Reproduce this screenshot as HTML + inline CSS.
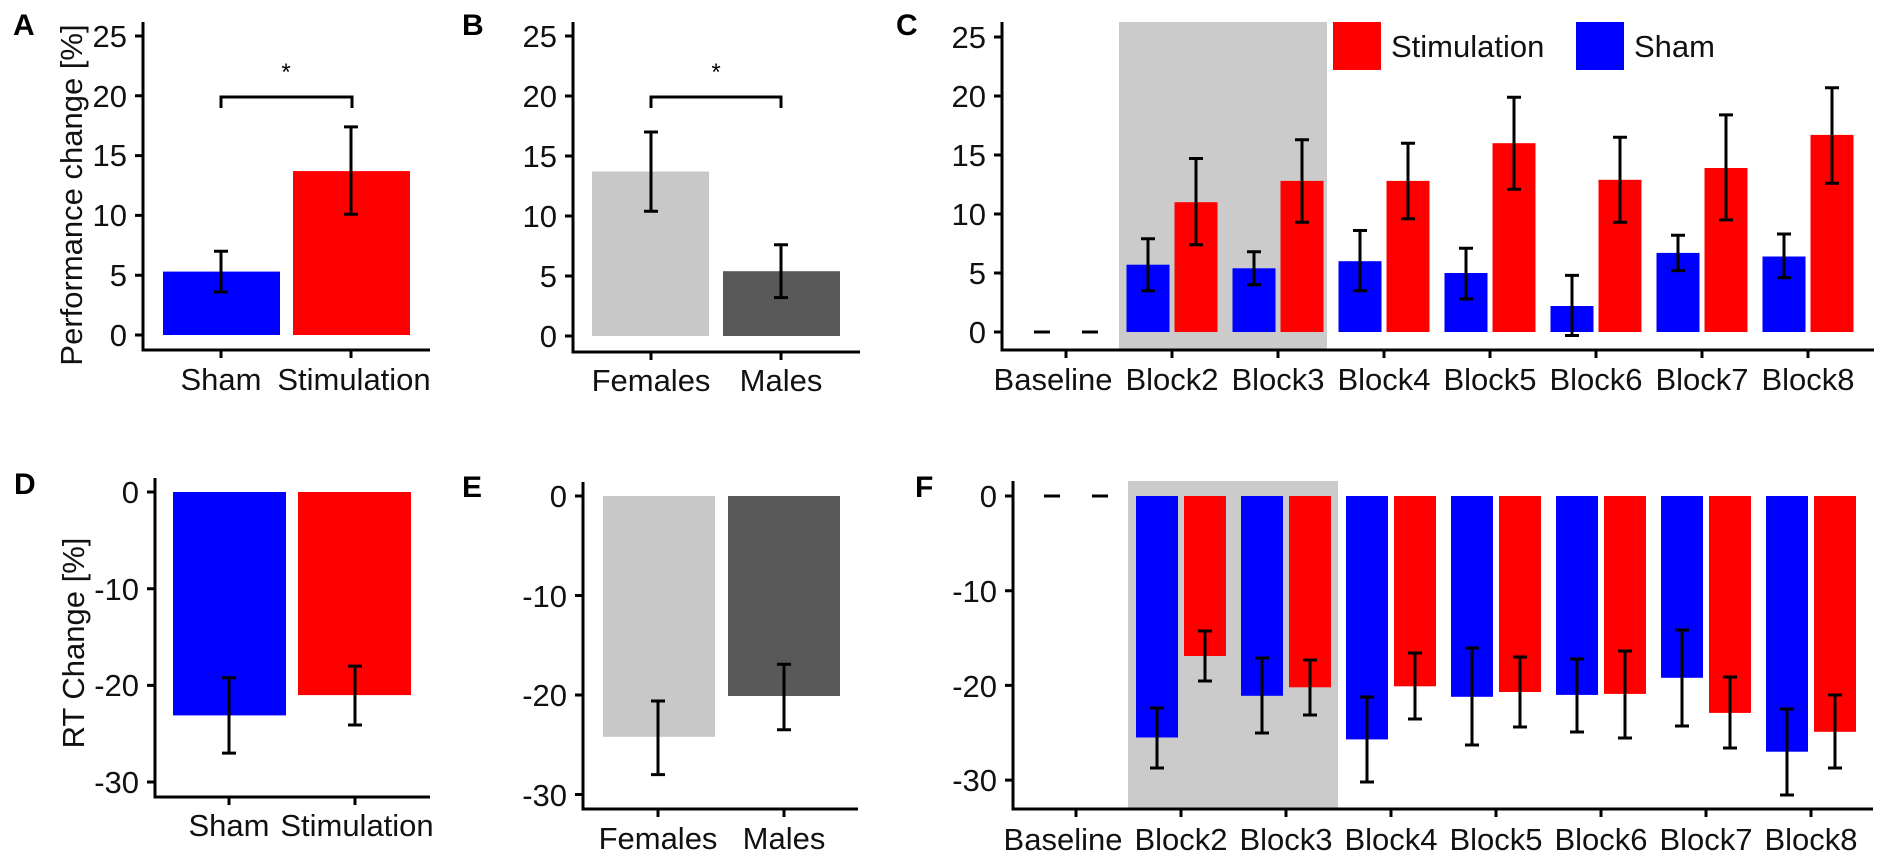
<!DOCTYPE html>
<html><head><meta charset="utf-8"><style>
html,body{margin:0;padding:0;background:#fff;}
svg{display:block;font-family:"Liberation Sans",Arial,sans-serif;}
.t{font-size:31px;fill:#111;}
.l{font-size:30px;font-weight:bold;fill:#000;}
.ax{stroke:#000;stroke-width:3;fill:none;}
.e{stroke:#000;stroke-width:3;fill:none;}
</style></head><body>
<svg width="1890" height="867" viewBox="0 0 1890 867" xmlns="http://www.w3.org/2000/svg">
<rect width="1890" height="867" fill="#fff"/>

<text class="l" x="13" y="35">A</text>
<text class="l" x="462" y="35">B</text>
<text class="l" x="896" y="35">C</text>
<text class="l" x="14" y="494">D</text>
<text class="l" x="462" y="497">E</text>
<text class="l" x="915" y="497">F</text>

<!-- ===== Panel A ===== -->
<text class="t" text-anchor="middle" transform="translate(82,195) rotate(-90)">Performance change [%]</text>
<rect x="163" y="271.6" width="117" height="63.4" fill="#0000ff"/>
<rect x="293" y="171.1" width="117" height="163.9" fill="#ff0000"/>
<path class="e" d="M221 291.9V251.3M214 291.9h14M214 251.3h14M351 214.2V126.9M344 214.2h14M344 126.9h14"/>
<path class="e" d="M221 108V97H352V108" stroke-width="2.5"/>
<text x="286" y="80" font-size="24" text-anchor="middle">*</text>
<path class="ax" d="M143 22V350H430M135 335h8M135 275.2h8M135 215.4h8M135 155.6h8M135 95.8h8M135 36h8M221 350v8M351 350v8"/>
<g class="t" text-anchor="end">
<text x="127" y="346">0</text><text x="127" y="286">5</text><text x="127" y="226">10</text><text x="127" y="166">15</text><text x="127" y="107">20</text><text x="127" y="47">25</text></g>
<g class="t" text-anchor="middle"><text x="221" y="390">Sham</text><text x="354" y="390">Stimulation</text></g>

<!-- ===== Panel B ===== -->
<rect x="592" y="171.6" width="117" height="164.4" fill="#c8c8c8"/>
<rect x="723" y="271.2" width="117" height="64.8" fill="#595959"/>
<path class="e" d="M651 211.2V132M644 211.2h14M644 132h14M781 297.6V244.8M774 297.6h14M774 244.8h14"/>
<path class="e" d="M651 108V97H781V108" stroke-width="2.5"/>
<text x="716" y="80" font-size="24" text-anchor="middle">*</text>
<path class="ax" d="M573 22V352H860M565 336h8M565 276h8M565 216h8M565 156h8M565 96h8M565 36h8M651 352v8M781 352v8"/>
<g class="t" text-anchor="end">
<text x="557" y="347">0</text><text x="557" y="287">5</text><text x="557" y="227">10</text><text x="557" y="167">15</text><text x="557" y="107">20</text><text x="557" y="47">25</text></g>
<g class="t" text-anchor="middle"><text x="651" y="391">Females</text><text x="781" y="391">Males</text></g>

<!-- ===== Panel C ===== -->
<rect x="1119" y="22" width="208" height="328" fill="#cbcbcb"/>
<g fill="#0000ff">
<rect x="1126.5" y="264.7" width="43" height="67.3"/>
<rect x="1232.5" y="268.3" width="43" height="63.7"/>
<rect x="1338.5" y="261.2" width="43" height="70.8"/>
<rect x="1444.5" y="273" width="43" height="59"/>
<rect x="1550.5" y="306" width="43" height="26"/>
<rect x="1656.5" y="252.9" width="43" height="79.1"/>
<rect x="1762.5" y="256.5" width="43" height="75.5"/>
</g>
<g fill="#ff0000">
<rect x="1174.5" y="202.2" width="43" height="129.8"/>
<rect x="1280.5" y="180.9" width="43" height="151.1"/>
<rect x="1386.5" y="180.9" width="43" height="151.1"/>
<rect x="1492.5" y="143.2" width="43" height="188.8"/>
<rect x="1598.5" y="179.8" width="43" height="152.2"/>
<rect x="1704.5" y="168" width="43" height="164"/>
<rect x="1810.5" y="134.9" width="43" height="197.1"/>
</g>
<path class="e" d="
M1148 290.7V238.8M1141 290.7h14M1141 238.8h14
M1196 244.7V158.5M1189 244.7h14M1189 158.5h14
M1254 284.8V251.8M1247 284.8h14M1247 251.8h14
M1302 222.3V139.7M1295 222.3h14M1295 139.7h14
M1360 290.7V230.5M1353 290.7h14M1353 230.5h14
M1408 218.7V143.2M1401 218.7h14M1401 143.2h14
M1466 299V248.2M1459 299h14M1459 248.2h14
M1514 189.2V97.2M1507 189.2h14M1507 97.2h14
M1572 335.5V275.4M1565 335.5h14M1565 275.4h14
M1620 222.3V137.3M1613 222.3h14M1613 137.3h14
M1678 270.6V235.2M1671 270.6h14M1671 235.2h14
M1726 219.9V114.9M1719 219.9h14M1719 114.9h14
M1784 277.7V234M1777 277.7h14M1777 234h14
M1832 183.3V87.7M1825 183.3h14M1825 87.7h14
M1034 332h16M1082 332h16"/>
<path class="ax" d="M1002 22V350H1874M994 332h8M994 273h8M994 214h8M994 155h8M994 96h8M994 37h8
M1066 350v8M1172 350v8M1278 350v8M1384 350v8M1490 350v8M1596 350v8M1702 350v8M1808 350v8"/>
<g class="t" text-anchor="end">
<text x="986" y="343">0</text><text x="986" y="284">5</text><text x="986" y="225">10</text><text x="986" y="166">15</text><text x="986" y="107">20</text><text x="986" y="48">25</text></g>
<g class="t" text-anchor="middle">
<text x="1053" y="390">Baseline</text><text x="1172" y="390">Block2</text><text x="1278" y="390">Block3</text><text x="1384" y="390">Block4</text><text x="1490" y="390">Block5</text><text x="1596" y="390">Block6</text><text x="1702" y="390">Block7</text><text x="1808" y="390">Block8</text></g>
<rect x="1333" y="22" width="48" height="48" fill="#ff0000"/>
<text class="t" x="1391" y="57">Stimulation</text>
<rect x="1576" y="22" width="48" height="48" fill="#0000ff"/>
<text class="t" x="1634" y="57">Sham</text>

<!-- ===== Panel D ===== -->
<text class="t" text-anchor="middle" transform="translate(84,643) rotate(-90)">RT Change [%]</text>
<rect x="173" y="492" width="113" height="223.4" fill="#0000ff"/>
<rect x="298" y="492" width="113" height="203.1" fill="#ff0000"/>
<path class="e" d="M229 677.7V753.1M222 677.7h14M222 753.1h14M355 666.1V725M348 666.1h14M348 725h14"/>
<path class="ax" d="M155 478V797H430M147 492h8M147 588.7h8M147 685.4h8M147 782h8M229 797v8M355 797v8"/>
<g class="t" text-anchor="end">
<text x="139" y="503">0</text><text x="139" y="600">-10</text><text x="139" y="696">-20</text><text x="139" y="793">-30</text></g>
<g class="t" text-anchor="middle"><text x="229" y="836">Sham</text><text x="357" y="836">Stimulation</text></g>

<!-- ===== Panel E ===== -->
<rect x="603" y="496" width="112" height="240.8" fill="#c8c8c8"/>
<rect x="728" y="496" width="112" height="200" fill="#595959"/>
<path class="e" d="M658 701V774.6M651 701h14M651 774.6h14M784 664.2V729.8M777 664.2h14M777 729.8h14"/>
<path class="ax" d="M583 482V809H858M575 496h8M575 595.5h8M575 695h8M575 794.5h8M658 809v8M784 809v8"/>
<g class="t" text-anchor="end">
<text x="567" y="507">0</text><text x="567" y="607">-10</text><text x="567" y="706">-20</text><text x="567" y="806">-30</text></g>
<g class="t" text-anchor="middle"><text x="658" y="849">Females</text><text x="784" y="849">Males</text></g>

<!-- ===== Panel F ===== -->
<rect x="1128" y="481" width="210" height="328" fill="#cbcbcb"/>
<g fill="#0000ff">
<rect x="1136" y="496" width="42" height="241.5"/>
<rect x="1241" y="496" width="42" height="199.8"/>
<rect x="1346" y="496" width="42" height="243.4"/>
<rect x="1451" y="496" width="42" height="200.8"/>
<rect x="1556" y="496" width="42" height="198.9"/>
<rect x="1661" y="496" width="42" height="181.8"/>
<rect x="1766" y="496" width="42" height="255.7"/>
</g>
<g fill="#ff0000">
<rect x="1184" y="496" width="42" height="160"/>
<rect x="1289" y="496" width="42" height="191.3"/>
<rect x="1394" y="496" width="42" height="190.3"/>
<rect x="1499" y="496" width="42" height="196"/>
<rect x="1604" y="496" width="42" height="197.9"/>
<rect x="1709" y="496" width="42" height="216.9"/>
<rect x="1814" y="496" width="42" height="235.8"/>
</g>
<path class="e" d="
M1157 708V768M1150 708h14M1150 768h14
M1205 631V681M1198 631h14M1198 681h14
M1262 658V733M1255 658h14M1255 733h14
M1310 660V715M1303 660h14M1303 715h14
M1367 697V782M1360 697h14M1360 782h14
M1415 653V719M1408 653h14M1408 719h14
M1472 648V745M1465 648h14M1465 745h14
M1520 657V727M1513 657h14M1513 727h14
M1577 659V732M1570 659h14M1570 732h14
M1625 651V738M1618 651h14M1618 738h14
M1682 630V726M1675 630h14M1675 726h14
M1730 677V748M1723 677h14M1723 748h14
M1787 709V795M1780 709h14M1780 795h14
M1835 695V768M1828 695h14M1828 768h14
M1044 496h16M1092 496h16"/>
<path class="ax" d="M1013 481V809H1873M1005 496h8M1005 590.7h8M1005 685.4h8M1005 780.1h8
M1076 809v8M1181 809v8M1286 809v8M1391 809v8M1496 809v8M1601 809v8M1706 809v8M1811 809v8"/>
<g class="t" text-anchor="end">
<text x="997" y="507">0</text><text x="997" y="602">-10</text><text x="997" y="697">-20</text><text x="997" y="791">-30</text></g>
<g class="t" text-anchor="middle">
<text x="1063" y="850">Baseline</text><text x="1181" y="850">Block2</text><text x="1286" y="850">Block3</text><text x="1391" y="850">Block4</text><text x="1496" y="850">Block5</text><text x="1601" y="850">Block6</text><text x="1706" y="850">Block7</text><text x="1811" y="850">Block8</text></g>
</svg>
</body></html>
